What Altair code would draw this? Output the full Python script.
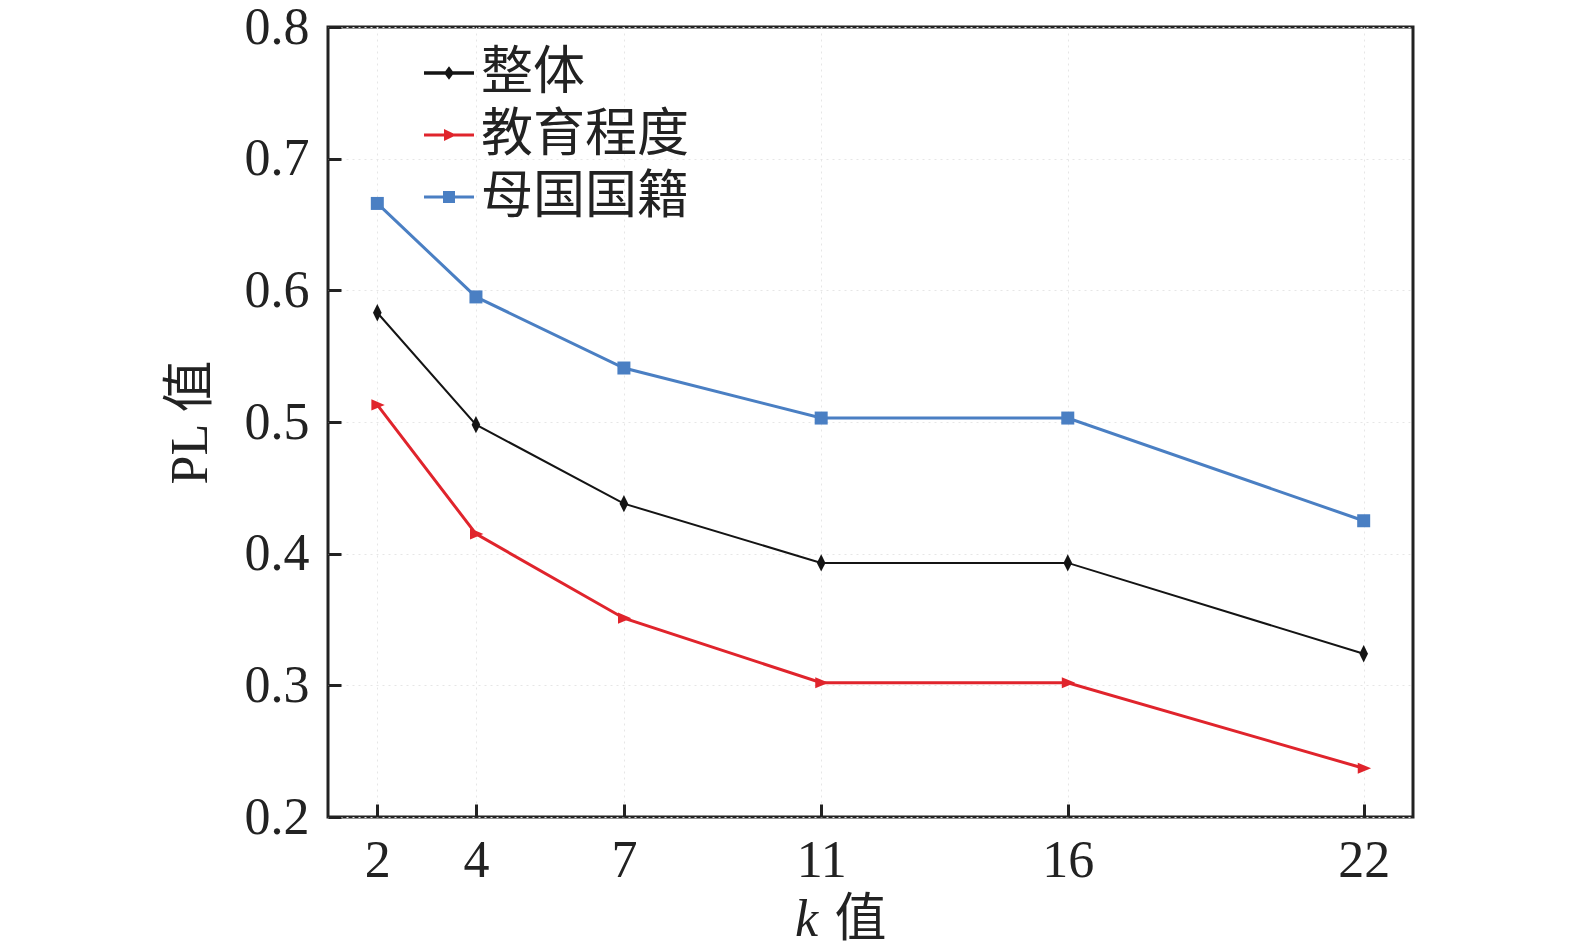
import altair as alt
import pandas as pd

k_values = [2, 4, 7, 11, 16, 22]
series_names = ["整体", "教育程度", "母国国籍"]
overall = [0.583, 0.498, 0.438, 0.393, 0.393, 0.324]
education = [0.513, 0.415, 0.351, 0.302, 0.302, 0.237]
nationality = [0.666, 0.595, 0.541, 0.503, 0.503, 0.425]
y_ticks = [0.2, 0.3, 0.4, 0.5, 0.6, 0.7, 0.8]

colors = ["#141414", "#e0242c", "#4a7fc3"]
line_widths = [2, 3, 3]
# marker shapes for the plotted points
marker_paths = [
    "M0,-1 L0.5,0 L0,1 L-0.5,0 Z",
    "M-0.8,-0.75 L1,0 L-0.8,0.75 Z",
    "square",
]
marker_sizes = [300, 220, 169]
# legend symbols: line segment plus marker
legend_paths = [
    "M-1,-0.07 L1,-0.07 L1,0.07 L-1,0.07 Z M0,-0.27 L0.2,0 L0,0.27 L-0.2,0 Z",
    "M-1,-0.06 L1,-0.06 L1,0.06 L-1,0.06 Z M-0.2,-0.24 L0.3,0 L-0.2,0.24 Z",
    "M-1,-0.06 L1,-0.06 L1,0.06 L-1,0.06 Z M-0.24,-0.24 L0.24,-0.24 L0.24,0.24 L-0.24,0.24 Z",
]

rows = []
for name, vals in zip(series_names, [overall, education, nationality]):
    for kv, v in zip(k_values, vals):
        rows.append({"k": kv, "PL": v, "series": name})
df = pd.DataFrame(rows)

FONT = "Liberation Serif, Times New Roman, Noto Sans CJK SC"
W, H = 1085, 790

xscale = alt.Scale(domain=[1, 23], nice=False, zero=False)
yscale = alt.Scale(domain=[0.2, 0.8], nice=False, zero=False)
cscale = alt.Scale(domain=series_names, range=colors)

base = alt.Chart(df)

lines = []
for name, col, lw in zip(series_names, colors, line_widths):
    lines.append(
        base.transform_filter(alt.datum.series == name)
        .mark_line(color=col, strokeWidth=lw)
        .encode(
            x=alt.X("k:Q", scale=xscale, axis=None),
            y=alt.Y("PL:Q", scale=yscale, axis=None),
        )
    )

points = []
for name, col, shp, sz in zip(series_names, colors, marker_paths, marker_sizes):
    points.append(
        base.transform_filter(alt.datum.series == name)
        .mark_point(filled=True, opacity=1, color=col, shape=shp, size=sz, strokeWidth=0)
        .encode(
            x=alt.X("k:Q", scale=xscale, axis=None),
            y=alt.Y("PL:Q", scale=yscale, axis=None),
        )
    )

main_axes = base.mark_point(opacity=0).encode(
    x=alt.X(
        "k:Q",
        scale=xscale,
        axis=alt.Axis(
            values=k_values, ticks=False, domain=False, grid=True,
            gridColor="#e6e6e6", gridDash=[2, 4], gridWidth=1,
            labelFont=FONT, labelFontSize=52, labelColor="#222",
            labelPadding=18, title="值", titleFont=FONT, titleFontSize=52,
            titleFontWeight="normal", titleColor="#222",
            titleX=532, titleY=118, titleBaseline="alphabetic", labelFlush=False,
        ),
    ),
    y=alt.Y(
        "PL:Q",
        scale=yscale,
        axis=alt.Axis(
            values=y_ticks, format=".1f", ticks=False, domain=False, grid=True,
            gridColor="#e6e6e6", gridDash=[2, 4], gridWidth=1,
            labelFont=FONT, labelFontSize=52, labelColor="#222",
            labelPadding=19, title="PL 值", titleFont=FONT, titleFontSize=52,
            titleFontWeight="normal", titleColor="#222", titlePadding=27,
            labelFlush=False,
        ),
    ),
)

# italic "k" of the x-axis title
k_title_axis = base.transform_filter("false").mark_point(opacity=0).encode(
    x=alt.X(
        "k:Q", scale=xscale,
        axis=alt.Axis(
            orient="bottom", labels=False, ticks=False, domain=False, grid=False,
            title="k", titleFont=FONT, titleFontSize=52, titleFontStyle="italic",
            titleFontWeight="normal", titleColor="#222",
            titleX=478, titleY=118, titleBaseline="alphabetic",
        ),
    ),
)

legend_kw = dict(
    title=None, orient="none", legendX=95, legendY=20, padding=0,
    labelFont=FONT, labelFontSize=52, labelColor="#222", labelOffset=6,
    symbolSize=2500, rowPadding=10, symbolStrokeWidth=0, labelLimit=400,
)

legend_layer = base.transform_filter("false").mark_point(
    filled=True, opacity=1, strokeWidth=0
).encode(
    x=alt.X(
        "k:Q", scale=xscale,
        axis=alt.Axis(
            orient="top", offset=-H, values=k_values, labels=False, domain=False,
            ticks=True, tickSize=13, tickWidth=3, tickColor="#222", grid=False, title=None,
        ),
    ),
    y=alt.Y(
        "PL:Q", scale=yscale,
        axis=alt.Axis(
            orient="right", offset=-W, values=y_ticks, labels=False, domain=False,
            ticks=True, tickSize=13, tickWidth=3, tickColor="#222", grid=False, title=None,
        ),
    ),
    color=alt.Color("series:N", scale=cscale, legend=alt.Legend(**legend_kw)),
    shape=alt.Shape(
        "series:N",
        scale=alt.Scale(domain=series_names, range=legend_paths),
        legend=alt.Legend(**legend_kw),
    ),
)

chart = (
    alt.layer(main_axes, k_title_axis, *lines, *points, legend_layer)
    .resolve_axis(x="independent", y="independent")
    .properties(
        width=W, height=H,
        autosize=alt.AutoSizeParams(type="none"),
        padding={"left": 320, "top": 19, "right": 140, "bottom": 126},
        background="white",
    )
    .configure_view(stroke="#222", strokeWidth=3)
)

chart.save("out.html", embed_options={"renderer": "svg", "actions": False})
